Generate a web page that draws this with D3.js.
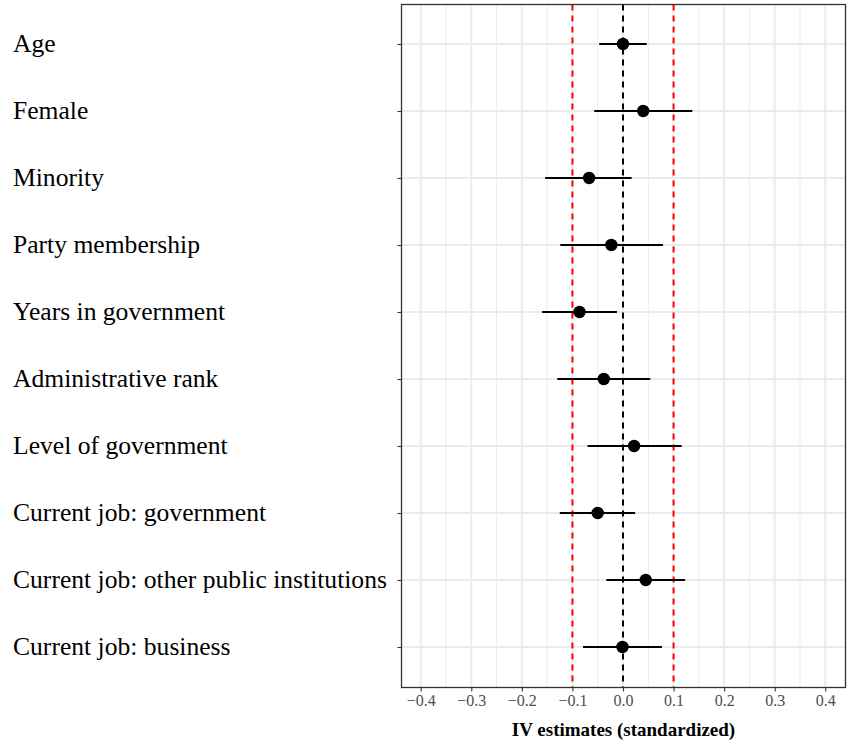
<!DOCTYPE html>
<html><head><meta charset="utf-8">
<script src="https://cdn.jsdelivr.net/npm/d3@7"></script>
<style>body{margin:0;background:#fff;} svg{display:block;}</style>
</head><body>
<script>
const categories = ["Age","Female","Minority","Party membership","Years in government","Administrative rank","Level of government","Current job: government","Current job: other public institutions","Current job: business"];
const estimates = [0.000, 0.040, -0.067, -0.023, -0.086, -0.038, 0.022, -0.050, 0.045, -0.001];
const lower = [-0.047, -0.057, -0.154, -0.124, -0.160, -0.130, -0.070, -0.125, -0.033, -0.079];
const upper = [0.047, 0.137, 0.017, 0.079, -0.012, 0.054, 0.116, 0.024, 0.123, 0.077];
const xTicks = [-0.4,-0.3,-0.2,-0.1,0.0,0.1,0.2,0.3,0.4];
const refLines = [{v:-0.1,c:"#ff0000"},{v:0.1,c:"#ff0000"},{v:0,c:"#000000"}];

const W=851,H=744;
const L=401.5,R=845.5,T=4.5,B=687.5;
const serif="'Liberation Serif','Times New Roman',serif";
const svg=d3.select("body").append("svg").attr("width",W).attr("height",H);
const x=d3.scaleLinear().domain([-0.438,0.44]).range([L,R]);
const y=d3.scalePoint().domain(categories).range([44,647]);

const g=svg.append("g");
const minor=d3.range(-0.45,0.451,0.1).map(v=>+v.toFixed(2)).filter(v=>x(v)>L&&x(v)<R);
g.selectAll(".mn").data(minor).join("line").attr("x1",d=>x(d)).attr("x2",d=>x(d)).attr("y1",T).attr("y2",B).attr("stroke","#ebebeb").attr("stroke-width",1);
g.selectAll(".mj").data(xTicks).join("line").attr("x1",d=>x(d)).attr("x2",d=>x(d)).attr("y1",T).attr("y2",B).attr("stroke","#ebebeb").attr("stroke-width",2);
g.selectAll(".hy").data(categories).join("line").attr("x1",L).attr("x2",R).attr("y1",d=>y(d)).attr("y2",d=>y(d)).attr("stroke","#ebebeb").attr("stroke-width",2);

g.selectAll(".ref").data(refLines).join("line").attr("x1",d=>x(d.v)).attr("x2",d=>x(d.v)).attr("y1",T).attr("y2",B).attr("stroke",d=>d.c).attr("stroke-width",2).attr("stroke-dasharray","6,5");

const idx=d3.range(categories.length);
g.selectAll(".eb").data(idx).join("line").attr("x1",i=>x(lower[i])).attr("x2",i=>x(upper[i])).attr("y1",i=>y(categories[i])).attr("y2",i=>y(categories[i])).attr("stroke","#000").attr("stroke-width",2);
g.selectAll(".pt").data(idx).join("circle").attr("cx",i=>x(estimates[i])).attr("cy",i=>y(categories[i])).attr("r",6.2).attr("fill","#000");

svg.append("rect").attr("x",L).attr("y",T).attr("width",R-L).attr("height",B-T).attr("fill","none").attr("stroke","#333").attr("stroke-width",1.3);

const xa=svg.append("g").attr("transform",`translate(0,${B})`).call(d3.axisBottom(x).tickValues(xTicks).tickSize(4).tickPadding(3).tickFormat(d=>d3.format(".1f")(d).replace("-","\u2212")));
xa.select(".domain").remove();
xa.selectAll("line").attr("stroke","#333").attr("stroke-width",1.1);
xa.selectAll("text").attr("fill","#4d4d4d").style("font-family",serif).style("font-size","16px");

const ya=svg.append("g").attr("transform",`translate(${L},0)`).call(d3.axisLeft(y).tickSize(4).tickFormat(""));
ya.select(".domain").remove();
ya.selectAll("line").attr("stroke","#333").attr("stroke-width",1.1);
svg.append("g").selectAll("text").data(categories).join("text").attr("x",13).attr("y",d=>y(d)).attr("dy","0.33em")
 .style("font-family",serif).style("font-size","25.6px").attr("fill","#000").text(d=>d);

svg.append("text").attr("x",(L+R)/2).attr("y",736).attr("text-anchor","middle")
 .style("font-family",serif).style("font-size","19px").style("font-weight","bold").attr("fill","#000").text("IV estimates (standardized)");
</script>
</body></html>
